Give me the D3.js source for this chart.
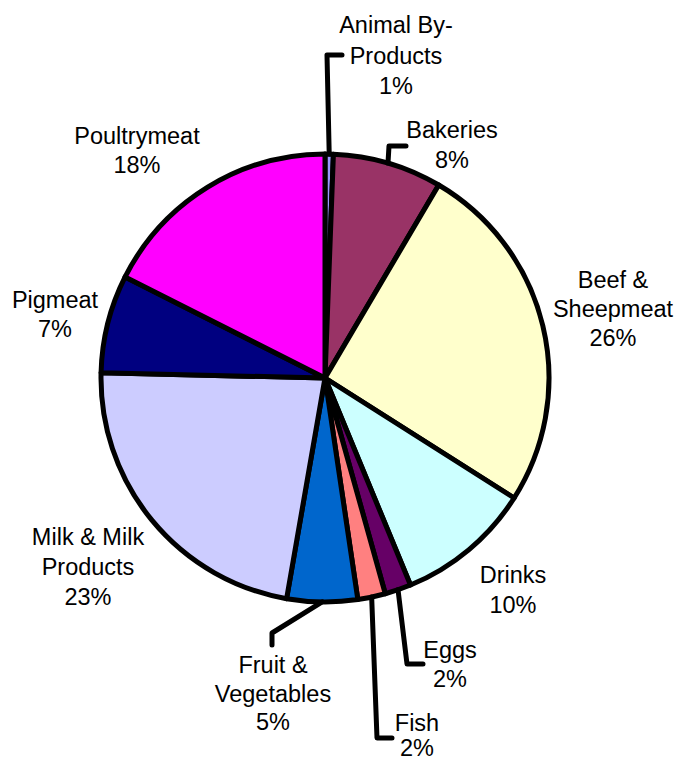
<!DOCTYPE html>
<html>
<head>
<meta charset="utf-8">
<script src="https://cdn.jsdelivr.net/npm/d3@7/dist/d3.min.js"></script>
<style>
  html, body { margin: 0; padding: 0; background: #ffffff; }
  svg { display: block; }
  text { font-family: "Liberation Sans", Arial, sans-serif; font-size: 23.5px; fill: #000; }
</style>
</head>
<body>
<script>
// Share of food-industry output by sector (percent)
const categories = [
  ["Animal By-", "Products"],
  ["Bakeries"],
  ["Beef &", "Sheepmeat"],
  ["Drinks"],
  ["Eggs"],
  ["Fish"],
  ["Fruit &", "Vegetables"],
  ["Milk & Milk", "Products"],
  ["Pigmeat"],
  ["Poultrymeat"]
];
const values = [0.6, 7.9, 25.6, 9.8, 1.9, 2.0, 5.1, 22.7, 7.1, 17.6];
const colors = ["#9999FF", "#993366", "#FFFFCC", "#CCFFFF", "#660066",
                "#FF8080", "#0066CC", "#CCCCFF", "#000080", "#FF00FF"];

// Label placement: text centre x, first baseline, line height and optional leader-line elbow points
const labelLayout = [
  { x: 396, y: 33,  lh: 30.5, leader: [[327, 55], [342, 55]] },
  { x: 452, y: 138, lh: 30,   leader: [[389, 146], [406, 146]] },
  { x: 613, y: 288, lh: 29 },
  { x: 513, y: 583, lh: 30 },
  { x: 450, y: 658, lh: 29,   leader: [[407, 664], [423, 664]] },
  { x: 417, y: 731, lh: 25,   leader: [[377, 738], [392, 738]] },
  { x: 273, y: 673, lh: 28.5, leader: [[272, 633], [272, 645]] },
  { x: 88,  y: 545, lh: 30 },
  { x: 55,  y: 308, lh: 29 },
  { x: 137, y: 144, lh: 29 }
];

const W = 675, H = 762;
const cx = 325, cy = 378, R = 224;

const svg = d3.select("body").append("svg")
  .attr("width", W).attr("height", H);

const data = categories.map((c, i) => ({ name: c, value: values[i], color: colors[i], layout: labelLayout[i] }));
const total = d3.sum(values);

const pie = d3.pie().sort(null).value(d => d.value).startAngle(0).endAngle(2 * Math.PI);
const arcs = pie(data);
const arc = d3.arc().innerRadius(0).outerRadius(R);

const g = svg.append("g").attr("transform", `translate(${cx},${cy})`);

g.selectAll("path.slice")
  .data(arcs)
  .join("path")
  .attr("class", "slice")
  .attr("d", arc)
  .attr("fill", d => d.data.color)
  .attr("stroke", "#000")
  .attr("stroke-width", 5)
  .attr("stroke-linejoin", "round");

// Leader lines from the slice edge to the label
const line = d3.line();
arcs.forEach(a => {
  const lay = a.data.layout;
  if (!lay.leader) return;
  const mid = (a.startAngle + a.endAngle) / 2;
  const start = [cx + R * Math.sin(mid), cy - R * Math.cos(mid)];
  svg.append("path")
    .attr("d", line([start, ...lay.leader]))
    .attr("fill", "none")
    .attr("stroke", "#000")
    .attr("stroke-width", 5)
    .attr("stroke-linecap", "round")
    .attr("stroke-linejoin", "round");
});

// Category labels with percentage
const fmt = v => Math.round(v / total * 100) + "%";
arcs.forEach(a => {
  const lay = a.data.layout;
  const lines = [...a.data.name, fmt(a.data.value)];
  const t = svg.append("text")
    .attr("text-anchor", "middle");
  lines.forEach((s, i) => {
    t.append("tspan")
      .attr("x", lay.x)
      .attr("y", lay.y + i * lay.lh)
      .text(s);
  });
});
</script>
</body>
</html>
